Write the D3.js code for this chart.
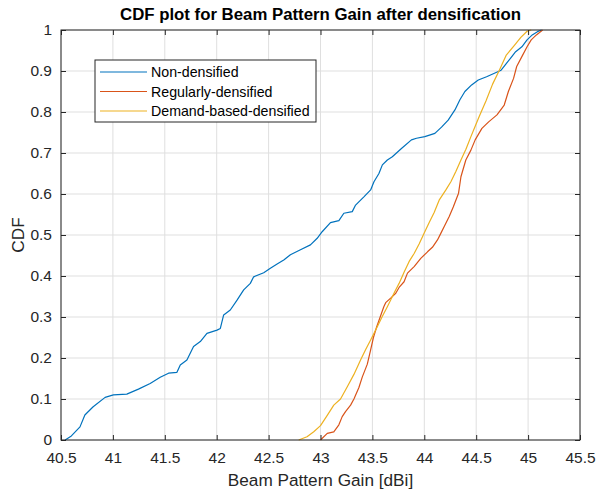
<!DOCTYPE html>
<html>
<head>
<meta charset="utf-8">
<script src="https://cdn.jsdelivr.net/npm/d3@7"></script>
<style>
  body { margin: 0; background: #fff; }
  svg { font-family: "Liberation Sans", Arial, sans-serif; }
</style>
</head>
<body>
<div id="chart"></div>
<script>
// values (gain in dBi, cdf)
var nonX = [40.54, 40.60, 40.683, 40.73, 40.81, 40.925, 41.005, 41.134, 41.246, 41.359, 41.456, 41.536, 41.617, 41.649, 41.713, 41.777, 41.842, 41.906, 42.003, 42.035, 42.067, 42.131, 42.196, 42.26, 42.324, 42.356, 42.453, 42.517, 42.582, 42.646, 42.71, 42.807, 42.903, 42.968, 43.016, 43.096, 43.177, 43.225, 43.306, 43.338, 43.418, 43.483, 43.515, 43.563, 43.596, 43.644, 43.692, 43.78, 43.876, 43.925, 44.005, 44.102, 44.166, 44.23, 44.295, 44.343, 44.391, 44.456, 44.52, 44.60, 44.67, 44.74, 44.78, 44.83, 44.88, 44.94, 44.99, 45.04, 45.09, 45.13];
var nonY = [0, 0.01, 0.032, 0.061, 0.081, 0.104, 0.110, 0.112, 0.124, 0.138, 0.153, 0.163, 0.165, 0.183, 0.195, 0.228, 0.240, 0.260, 0.268, 0.272, 0.305, 0.317, 0.341, 0.366, 0.382, 0.398, 0.408, 0.419, 0.429, 0.439, 0.452, 0.464, 0.476, 0.492, 0.508, 0.530, 0.535, 0.553, 0.557, 0.573, 0.593, 0.610, 0.630, 0.650, 0.671, 0.683, 0.691, 0.711, 0.732, 0.736, 0.740, 0.748, 0.763, 0.780, 0.805, 0.830, 0.850, 0.866, 0.878, 0.886, 0.894, 0.902, 0.915, 0.931, 0.947, 0.959, 0.976, 0.988, 0.996, 1.0];

var regX = [43.0, 43.065, 43.128, 43.177, 43.209, 43.241, 43.29, 43.322, 43.37, 43.403, 43.451, 43.483, 43.51, 43.54, 43.575, 43.61, 43.628, 43.676, 43.725, 43.757, 43.805, 43.838, 43.902, 43.966, 44.031, 44.078, 44.127, 44.159, 44.192, 44.24, 44.28, 44.33, 44.353, 44.40, 44.449, 44.49, 44.555, 44.62, 44.70, 44.77, 44.81, 44.86, 44.89, 44.94, 44.99, 45.03, 45.08, 45.14];
var regY = [0, 0.016, 0.020, 0.037, 0.057, 0.069, 0.085, 0.100, 0.128, 0.154, 0.185, 0.220, 0.250, 0.275, 0.300, 0.325, 0.335, 0.346, 0.358, 0.372, 0.386, 0.407, 0.423, 0.443, 0.459, 0.470, 0.488, 0.504, 0.521, 0.545, 0.569, 0.602, 0.642, 0.683, 0.707, 0.732, 0.760, 0.776, 0.793, 0.817, 0.850, 0.882, 0.911, 0.935, 0.959, 0.976, 0.988, 1.0];

var demX = [42.79, 42.87, 42.935, 43.0, 43.065, 43.128, 43.193, 43.258, 43.322, 43.386, 43.434, 43.483, 43.547, 43.595, 43.644, 43.708, 43.757, 43.805, 43.853, 43.902, 43.95, 43.998, 44.046, 44.095, 44.143, 44.208, 44.256, 44.304, 44.353, 44.401, 44.449, 44.49, 44.529, 44.594, 44.658, 44.723, 44.79, 44.866, 44.93, 44.99, 45.03];
var demY = [0, 0.008, 0.020, 0.035, 0.06, 0.085, 0.100, 0.130, 0.160, 0.195, 0.220, 0.244, 0.276, 0.301, 0.325, 0.358, 0.382, 0.409, 0.435, 0.455, 0.478, 0.504, 0.530, 0.555, 0.585, 0.610, 0.630, 0.655, 0.683, 0.709, 0.740, 0.765, 0.789, 0.827, 0.868, 0.902, 0.939, 0.962, 0.982, 0.997, 1.0];

var seriesNames = ["Non-densified", "Regularly-densified", "Demand-based-densified"];
var xTicks = [40.5, 41, 41.5, 42, 42.5, 43, 43.5, 44, 44.5, 45, 45.5];
var yTicks = [0, 0.1, 0.2, 0.3, 0.4, 0.5, 0.6, 0.7, 0.8, 0.9, 1];

var w = 598, h = 490;
var margin = {top: 30, right: 18, bottom: 50, left: 61};
var pw = w - margin.left - margin.right;
var ph = h - margin.top - margin.bottom;

var colors = ["#0072BD", "#D95319", "#EDB120"];
var axisColor = "#262626";

var svg = d3.select("#chart").append("svg")
    .attr("width", w)
    .attr("height", h);

var x = d3.scaleLinear().domain([40.5, 45.5]).range([0, pw]);
var y = d3.scaleLinear().domain([0, 1]).range([ph, 0]);

var g = svg.append("g")
    .attr("transform", "translate(" + margin.left + "," + margin.top + ")");

g.append("rect").attr("width", pw).attr("height", ph).attr("fill", "#fff");

// grid
g.selectAll("line.gx").data(xTicks).enter().append("line")
    .attr("x1", function(d) { return x(d); })
    .attr("x2", function(d) { return x(d); })
    .attr("y1", 0).attr("y2", ph)
    .attr("stroke", "#dfdfdf").attr("stroke-width", 1);
g.selectAll("line.gy").data(yTicks).enter().append("line")
    .attr("y1", function(d) { return y(d); })
    .attr("y2", function(d) { return y(d); })
    .attr("x1", 0).attr("x2", pw)
    .attr("stroke", "#dfdfdf").attr("stroke-width", 1);

// curves
var datasets = [
  d3.zip(nonX, nonY),
  d3.zip(regX, regY),
  d3.zip(demX, demY)
];
var line = d3.line()
    .x(function(d) { return x(d[0]); })
    .y(function(d) { return y(d[1]); });

datasets.forEach(function(ds, i) {
  g.append("path")
      .datum(ds)
      .attr("fill", "none")
      .attr("stroke", colors[i])
      .attr("stroke-width", 1.2)
      .attr("stroke-linejoin", "round")
      .attr("d", line);
});

// axes with inward ticks (box on)
function styleAxis(sel) {
  sel.select(".domain").remove();
  sel.selectAll(".tick line").attr("stroke", axisColor);
  sel.selectAll(".tick text")
      .attr("fill", axisColor)
      .style("font-size", "15.5px")
      .style("font-family", "Liberation Sans, Arial, sans-serif");
}

g.append("g").attr("transform", "translate(0," + ph + ")")
    .call(d3.axisBottom(x).tickValues(xTicks).tickSize(-5).tickPadding(12)
      .tickFormat(function(d) { return d; }))
    .call(styleAxis);
g.append("g")
    .call(d3.axisTop(x).tickValues(xTicks).tickSize(-5).tickFormat(""))
    .call(styleAxis);
g.append("g")
    .call(d3.axisLeft(y).tickValues(yTicks).tickSize(-5).tickPadding(9)
      .tickFormat(function(d) { return d; }))
    .call(styleAxis);
g.append("g").attr("transform", "translate(" + pw + ",0)")
    .call(d3.axisRight(y).tickValues(yTicks).tickSize(-5).tickFormat(""))
    .call(styleAxis);

// frame
g.append("rect")
    .attr("width", pw).attr("height", ph)
    .attr("fill", "none")
    .attr("stroke", axisColor).attr("stroke-width", 1);

// title and labels
svg.append("text")
    .attr("x", margin.left + pw / 2).attr("y", 20)
    .attr("text-anchor", "middle")
    .attr("font-weight", "bold")
    .attr("font-size", "16.8px")
    .attr("fill", "#000")
    .text("CDF plot for Beam Pattern Gain after densification");

svg.append("text")
    .attr("x", margin.left + pw / 2).attr("y", 486)
    .attr("text-anchor", "middle")
    .attr("font-size", "17.2px")
    .attr("fill", axisColor)
    .text("Beam Pattern Gain [dBi]");

svg.append("text")
    .attr("transform", "translate(24," + (margin.top + ph / 2) + ") rotate(-90)")
    .attr("text-anchor", "middle")
    .attr("font-size", "17.2px")
    .attr("fill", axisColor)
    .text("CDF");

// legend
var legend = svg.append("g").attr("transform", "translate(95,60)");
legend.append("rect")
    .attr("width", 221).attr("height", 62)
    .attr("fill", "#fff")
    .attr("stroke", axisColor).attr("stroke-width", 1);

seriesNames.forEach(function(name, i) {
  var ly = 12 + i * 19.5;
  legend.append("line")
      .attr("x1", 5).attr("x2", 52)
      .attr("y1", ly).attr("y2", ly)
      .attr("stroke", colors[i]).attr("stroke-width", 1.2);
  legend.append("text")
      .attr("x", 56).attr("y", ly + 5)
      .attr("font-size", "14.2px")
      .attr("fill", "#000")
      .text(name);
});
</script>
</body>
</html>
